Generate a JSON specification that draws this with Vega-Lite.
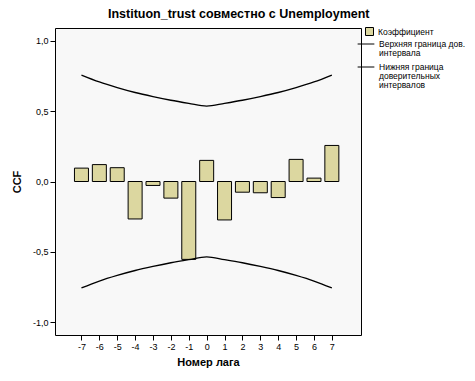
{
  "$schema": "https://vega.github.io/schema/vega-lite/v6.json",
  "autosize": {"type": "none"},
  "width": 306,
  "height": 307,
  "padding": {"left": 55, "top": 28, "right": 114, "bottom": 46},
  "background": "white",
  "title": {
    "text": "Instituon_trust совместно с Unemployment",
    "font": "Liberation Sans",
    "fontSize": 12.5,
    "fontWeight": "bold",
    "color": "#000000",
    "anchor": "middle",
    "frame": "bounds",
    "offset": 7
  },
  "config": {
    "view": {"fill": "#F8F8F8", "stroke": "#000000", "strokeWidth": 1},
    "axis": {
      "labelFont": "Liberation Sans",
      "labelFontSize": 9,
      "labelColor": "#000000",
      "titleFont": "Liberation Sans",
      "titleFontSize": 11,
      "titleFontWeight": "bold",
      "titleColor": "#000000",
      "domain": false,
      "grid": false,
      "tickColor": "#000000",
      "tickSize": 5
    },
    "legend": {
      "labelFont": "Liberation Sans",
      "labelFontSize": 8.5,
      "labelColor": "#000000",
      "labelLimit": 200,
      "rowPadding": 1
    }
  },
  "data": {
    "values": [
      {"lag": -7, "ccf": 0.095, "upper": 0.756, "lower": -0.756},
      {"lag": -6, "ccf": 0.12, "upper": 0.707, "lower": -0.707},
      {"lag": -5, "ccf": 0.098, "upper": 0.667, "lower": -0.667},
      {"lag": -4, "ccf": -0.266, "upper": 0.632, "lower": -0.632},
      {"lag": -3, "ccf": -0.028, "upper": 0.603, "lower": -0.603},
      {"lag": -2, "ccf": -0.118, "upper": 0.577, "lower": -0.577},
      {"lag": -1, "ccf": -0.553, "upper": 0.555, "lower": -0.555},
      {"lag": 0, "ccf": 0.15, "upper": 0.535, "lower": -0.535},
      {"lag": 1, "ccf": -0.273, "upper": 0.555, "lower": -0.555},
      {"lag": 2, "ccf": -0.076, "upper": 0.577, "lower": -0.577},
      {"lag": 3, "ccf": -0.08, "upper": 0.603, "lower": -0.603},
      {"lag": 4, "ccf": -0.114, "upper": 0.632, "lower": -0.632},
      {"lag": 5, "ccf": 0.157, "upper": 0.667, "lower": -0.667},
      {"lag": 6, "ccf": 0.024, "upper": 0.707, "lower": -0.707},
      {"lag": 7, "ccf": 0.256, "upper": 0.756, "lower": -0.756}
    ]
  },
  "encoding": {
    "x": {
      "field": "lag",
      "type": "quantitative",
      "scale": {"domain": [-8.2, 8.35], "nice": false, "zero": false},
      "axis": {
        "values": [-7, -6, -5, -4, -3, -2, -1, 0, 1, 2, 3, 4, 5, 6, 7],
        "labelExpr": "replace(format(datum.value, 'd'), '−', '-')",
        "title": "Номер лага",
        "titlePadding": 5,
        "labelPadding": 2
      }
    }
  },
  "layer": [
    {
      "mark": {"type": "bar", "size": 14, "stroke": "#000000", "strokeWidth": 1},
      "encoding": {
        "y": {
          "field": "ccf",
          "type": "quantitative",
          "scale": {"domain": [-1.09, 1.09], "nice": false},
          "axis": {
            "values": [-1, -0.5, 0, 0.5, 1],
            "labelExpr": "replace(replace(format(datum.value, '.1f'), '.', ','), '−', '-')",
            "title": "CCF",
            "titlePadding": 10,
            "labelPadding": 2
          }
        },
        "y2": {"datum": 0},
        "fill": {
          "datum": "Коэффициент",
          "type": "nominal",
          "scale": {"domain": ["Коэффициент"], "range": ["#DCD7A0"]},
          "legend": {
            "title": null,
            "orient": "none",
            "legendX": 310,
            "legendY": -1,
            "symbolType": "square",
            "symbolSize": 64,
            "symbolStrokeColor": "#000000",
            "symbolStrokeWidth": 1,
            "symbolOpacity": 1
          }
        }
      }
    },
    {
      "mark": {"type": "rule", "color": "#000000", "strokeWidth": 1},
      "encoding": {"y": {"datum": 0}}
    },
    {
      "mark": {"type": "line", "strokeWidth": 1.3, "interpolate": "monotone"},
      "encoding": {
        "y": {"field": "upper", "type": "quantitative"},
        "stroke": {
          "datum": "Верхняя граница дов. интервала",
          "type": "nominal",
          "scale": {
            "domain": ["Верхняя граница дов. интервала", "Нижняя граница доверительных интервалов"],
            "range": ["#000000", "#000000"]
          },
          "legend": {
            "title": null,
            "orient": "none",
            "legendX": 302,
            "legendY": 7,
            "symbolType": "stroke",
            "symbolSize": 280,
            "symbolStrokeWidth": 1,
            "rowPadding": -6,
            "labelExpr": "datum.label == 'Верхняя граница дов. интервала' ? ['Верхняя граница дов.', 'интервала'] : ['Нижняя граница', 'доверительных', 'интервалов']",
            "encode": {
              "labels": {"update": {"lineHeight": {"value": 9}}}
            }
          }
        }
      }
    },
    {
      "mark": {"type": "line", "strokeWidth": 1.3, "interpolate": "monotone"},
      "encoding": {
        "y": {"field": "lower", "type": "quantitative"},
        "stroke": {"datum": "Нижняя граница доверительных интервалов", "type": "nominal"}
      }
    }
  ]
}
